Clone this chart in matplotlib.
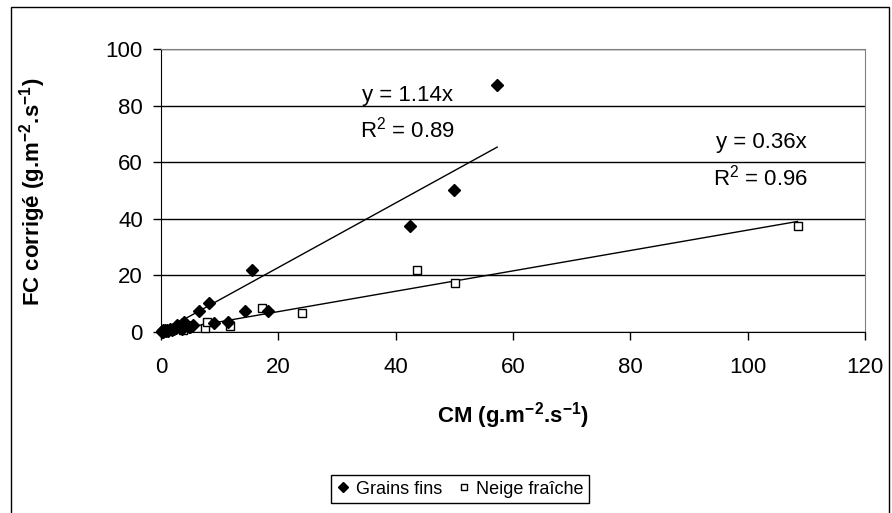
import matplotlib
matplotlib.use('Agg')
import matplotlib.pyplot as plt
from matplotlib.patches import Rectangle
import numpy as np

plt.rcParams['font.family'] = ['Liberation Sans', 'DejaVu Sans']
plt.rcParams['mathtext.fontset'] = 'custom'
plt.rcParams['mathtext.rm'] = 'Liberation Sans'
plt.rcParams['mathtext.bf'] = 'Liberation Sans:bold'
plt.rcParams['mathtext.it'] = 'Liberation Sans:italic'

# Grains fins (diamonds)
grains_cm = [0.1, 0.2, 0.4, 0.5, 0.6, 0.8, 1.0, 1.5, 1.8, 2.0, 2.2, 2.5, 2.8, 3.0, 3.5,
             3.5, 0.3, 1.2, 4.0, 4.7, 5.5, 5.0,
             6.5, 8.2, 9.1, 11.5, 14.4, 15.5, 18.3, 42.4, 49.9, 57.3]
grains_fc = [0.1, 0.2, 0.1, 0.3, 0.6, 0.5, 0.8, 1.0, 0.6, 1.2, 1.0, 1.5, 2.3, 1.8, 1.2,
             2.8, 0.8, 0.3, 3.6, 1.9, 2.5, 1.8,
             7.4, 10.1, 3.3, 3.4, 7.4, 21.9, 7.4, 37.3, 50.2, 87.4]

# Neige fraiche (open squares)
neige_cm = [0.5, 3.8, 7.5, 7.8, 11.8, 17.3, 24.0, 43.6, 50.1, 108.5]
neige_fc = [0.2, 0.7, 1.3, 3.6, 2.1, 8.4, 6.7, 21.9, 17.3, 37.6]

slope_grains = 1.14
slope_neige = 0.36

fig = plt.figure(figsize=(8.92, 5.13), dpi=100)
ax = fig.add_axes([161 / 892, 1 - 332 / 513, (865 - 161) / 892, (332 - 49) / 513])

ax.plot(neige_cm, neige_fc, linestyle='none', marker='s', markersize=6,
        markerfacecolor='white', markeredgecolor='black', markeredgewidth=1,
        label='Neige fraîche', zorder=4, clip_on=False)
ax.plot(grains_cm, grains_fc, linestyle='none', marker='D', markersize=6,
        color='black', label='Grains fins', zorder=5, clip_on=False)

xg = np.array([0, max(grains_cm)])
ax.plot(xg, slope_grains * xg, color='black', linewidth=1, zorder=3)
xn = np.array([0, max(neige_cm)])
ax.plot(xn, slope_neige * xn, color='black', linewidth=1, zorder=3)

ax.text(42.1, 83.7, 'y = 1.14x', fontsize=16, ha='center', va='center')
ax.text(42.1, 71.4, r'R$^{\mathrm{2}}$ = 0.89', fontsize=16, ha='center', va='center')
ax.text(102.3, 67.1, 'y = 0.36x', fontsize=16, ha='center', va='center')
ax.text(102.2, 54.7, r'R$^{\mathrm{2}}$ = 0.96', fontsize=16, ha='center', va='center')

ax.set_xlim(0, 120)
ax.set_ylim(0, 100)
ax.set_xticks(range(0, 121, 20))
ax.set_yticks(range(0, 101, 20))
ax.tick_params(axis='both', labelsize=16, direction='out', length=6, width=1, color='black')
ax.tick_params(axis='x', pad=12)
ax.tick_params(axis='y', pad=7)
ax.yaxis.grid(True, color='black', linewidth=1)
ax.set_axisbelow(True)

for s in ['top', 'right']:
    ax.spines[s].set_color('#808080')
for s in ['left', 'bottom']:
    ax.spines[s].set_color('black')

ax.set_xlabel(r'CM (g.m$^{\mathbf{-2}}$.s$^{\mathbf{-1}}$)', fontsize=16, fontweight='bold')
ax.set_ylabel(r'FC corrigé (g.m$^{\mathbf{-2}}$.s$^{\mathbf{-1}}$)', fontsize=16, fontweight='bold')
ax.xaxis.set_label_coords(0.5, -0.24)
ax.yaxis.set_label_coords(-0.16, 0.496)

handles, labels = ax.get_legend_handles_labels()
fig.legend(handles[::-1], labels[::-1], loc='center', bbox_to_anchor=(460 / 892, 1 - 489 / 513),
           ncol=2, fontsize=13, frameon=True, fancybox=False, edgecolor='black', framealpha=1,
           handlelength=0.8, handletextpad=0.3, columnspacing=0.8, markerscale=0.8,
           borderpad=0.3)

fig.patches.append(Rectangle((11 / 892, -0.1), (889 - 11) / 892, 1.1 - 7 / 513,
                             transform=fig.transFigure, fill=False,
                             edgecolor='black', linewidth=1))

plt.savefig('out.png', dpi=100)
plt.close()
